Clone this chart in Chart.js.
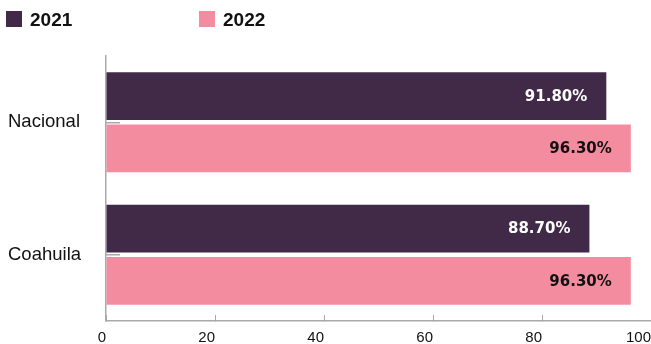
<!DOCTYPE html>
<html>
<head>
<meta charset="utf-8">
<script src="https://cdn.jsdelivr.net/npm/chart.js@4/dist/chart.umd.min.js"></script>
<style>
  html, body { margin: 0; padding: 0; background: #fff; }
  #wrap { position: relative; width: 651px; height: 344px; }
  #chart { display: block; }
  #legend { position: absolute; left: 6px; top: 11px; font: bold 19px "Liberation Sans", Arial, sans-serif; color: #111; }
  #legend span.item { position: absolute; top: 0; white-space: nowrap; }
  #legend i { display: inline-block; width: 16px; height: 16px; vertical-align: top; margin-right: 8px; }
  #legend b { position: relative; top: -2px; }
</style>
</head>
<body>
<div id="wrap">
  <canvas id="chart" width="651" height="344"></canvas>
  <div id="legend"></div>
</div>
<script>
// Data
const regions = ['Nacional', 'Coahuila'];
const years = ['2021', '2022'];
const values2021 = [91.8, 88.7];
const values2022 = [96.3, 96.3];
const xTicks = [0, 20, 40, 60, 80, 100];

const colors = ['#412a47', '#f38c9f'];
const labelColors = ['#ffffff', '#111111'];

// Legend built as plain HTML so the two items can sit far apart
const legendEl = document.getElementById('legend');
legendEl.innerHTML = years.map((y, i) =>
  `<span class="item" style="left:${i * 193}px"><i style="background:${colors[i]}"></i><b>${y}</b></span>`
).join('');

// Value labels drawn inside the end of each bar
const barLabels = {
  id: 'barLabels',
  afterDatasetsDraw(chart) {
    const ctx = chart.ctx;
    ctx.save();
    ctx.font = 'bold 15px "DejaVu Sans", sans-serif';
    ctx.textAlign = 'right';
    ctx.textBaseline = 'middle';
    chart.data.datasets.forEach((ds, i) => {
      const meta = chart.getDatasetMeta(i);
      meta.data.forEach((bar, j) => {
        ctx.fillStyle = labelColors[i];
        ctx.fillText(ds.data[j].toFixed(2) + '%', bar.x - 19, bar.y + 1);
      });
    });
    ctx.restore();
  }
};

const axisGray = '#a9a9a9';

new Chart(document.getElementById('chart'), {
  type: 'bar',
  data: {
    labels: regions,
    datasets: [
      { label: years[0], data: values2021, backgroundColor: colors[0] },
      { label: years[1], data: values2022, backgroundColor: colors[1] }
    ]
  },
  options: {
    indexAxis: 'y',
    responsive: false,
    animation: false,
    categoryPercentage: 0.79,
    barPercentage: 0.915,
    layout: { padding: { top: 56, left: 8, right: 0, bottom: 0 } },
    plugins: {
      legend: { display: false },
      tooltip: { enabled: false }
    },
    scales: {
      x: {
        min: 0,
        max: 100,
        afterBuildTicks(scale) {
          scale.ticks = xTicks.map(v => ({ value: v }));
        },
        afterFit(scale) {
          scale.height = 23;
          scale.paddingRight = 0;
        },
        border: { display: true, color: axisGray, width: 1.5 },
        grid: { drawOnChartArea: false, drawTicks: true, tickLength: -6, color: axisGray, lineWidth: 1 },
        ticks: {
          align: 'end',
          padding: 14,
          color: '#111',
          font: { family: '"Liberation Sans", Arial, sans-serif', size: 15 }
        }
      },
      y: {
        afterFit(scale) { scale.width = 98; },
        border: { display: true, color: axisGray, width: 1.5 },
        grid: { offset: false, drawOnChartArea: false, drawTicks: true, tickLength: -14, color: axisGray, lineWidth: 1.5 },
        ticks: {
          crossAlign: 'far',
          color: '#111',
          font: { family: '"Liberation Sans", Arial, sans-serif', size: 18.5 }
        }
      }
    }
  },
  plugins: [barLabels]
});
</script>
</body>
</html>
